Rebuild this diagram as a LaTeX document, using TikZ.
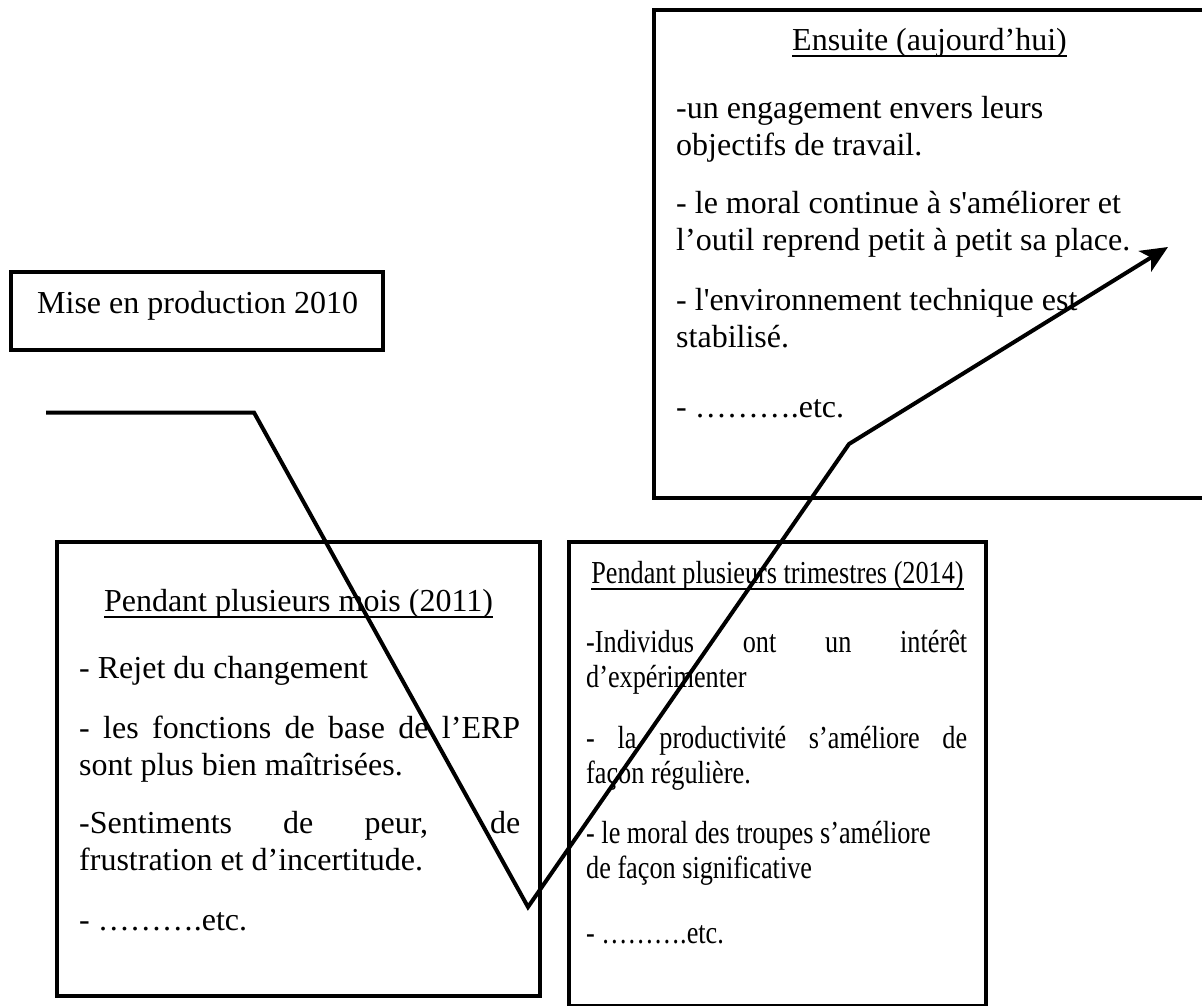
\documentclass[tikz,border=0pt]{standalone}
\usepackage{fontspec}
\newfontfamily\bodyfont{Liberation Serif}
\newfontfamily\narrowfont[FakeStretch=0.82]{Liberation Serif}
\usetikzlibrary{arrows.meta}

% underlined heading with a rule at a fixed depth
\newcommand\ultitle[1]{\setbox0=\hbox{#1}\rlap{\rule[-6.5pt]{\wd0}{1.6pt}}\box0}
% paragraph block whose reference point is the first baseline
\newcommand\para[2]{\vtop{\hsize=#1\parindent=0pt\parfillskip=0pt plus 1fil\relax #2}}

\tikzset{
  frame/.style={draw, line width=4pt, fill=white, inner sep=0pt, line join=miter},
  txt/.style={inner sep=0pt, anchor=base west, font=\bodyfont\fontsize{32}{37}\selectfont},
  ntxt/.style={inner sep=0pt, anchor=base west, font=\narrowfont\fontsize{32}{35.5}\selectfont},
  head/.style={inner sep=0pt, anchor=base},
  trend/.style={line width=4pt, line join=miter},
}

\begin{document}
\begin{tikzpicture}[x=1pt, y=-1pt]
\clip (0,0) rectangle (1202,1005);
\fill[white] (0,0) rectangle (1202,1005);

% boxes
\node[frame, minimum width=371.5pt, minimum height=77.5pt] (mise) at (196.75,310.75) {};
\node[frame, minimum width=556.5pt, minimum height=488pt] (now) at (931.75,254) {};
\node[frame, minimum width=483pt, minimum height=453.5pt] (months) at (298.5,768.75) {};
\node[frame, minimum width=417pt, minimum height=463.5pt] (quarters) at (777.5,773.75) {};

% first box
\node[txt] (misetxt) at (37,313) {Mise en production 2010};

% box: Ensuite
\node[txt, head] (nowtitle) at (929.5,50) {\ultitle{Ensuite (aujourd’hui)}};
\node[txt] (now1) at (676,118) {\para{520pt}{-un engagement envers leurs\newline objectifs de travail.}};
\node[txt] (now2) at (676,213) {\para{520pt}{- le moral continue à s'améliorer et\newline l’outil reprend petit à petit sa place.}};
\node[txt] (now3) at (676,310) {\para{520pt}{- l'environnement technique est\newline stabilisé.}};
\node[txt] (now4) at (676,417) {- ……….etc.};

% box: 2011
\node[txt, head] (monthstitle) at (298.5,611) {\ultitle{Pendant plusieurs mois (2011)}};
\node[txt] (months1) at (79,678) {- Rejet du changement};
\node[txt] (months2) at (79,738) {\para{441pt}{- les fonctions de base de l’ERP\linebreak sont plus bien maîtrisées.}};
\node[txt] (months3) at (79,833) {\para{441pt}{-Sentiments de peur, de\linebreak frustration et d’incertitude.}};
\node[txt] (months4) at (79,930) {- ……….etc.};

% box: 2014
\node[ntxt, head] (quarterstitle) at (777.5,583) {\ultitle{Pendant plusieurs trimestres (2014)}};
\node[ntxt] (quarters1) at (586,652) {\para{381pt}{-Individus ont un intérêt\linebreak d’expérimenter}};
\node[ntxt] (quarters2) at (586,748) {\para{381pt}{- la productivité s’améliore de\linebreak façon régulière.}};
\node[ntxt] (quarters3) at (586,843) {\para{381pt}{- le moral des troupes s’améliore\newline de façon significative}};
\node[ntxt] (quarters4) at (586,943) {- ……….etc.};

% trend line
\coordinate (start) at (46,412.5);
\coordinate (drop) at (254,412.5);
\coordinate (low) at (528,907);
\coordinate (bend) at (849,444);
\coordinate (tip) at (1168,247);
\draw[trend, -{Stealth[length=27pt, width=24pt, inset=7pt]}]
  (start) -- (drop) -- (low) -- (bend) -- (tip);
\end{tikzpicture}
\end{document}
